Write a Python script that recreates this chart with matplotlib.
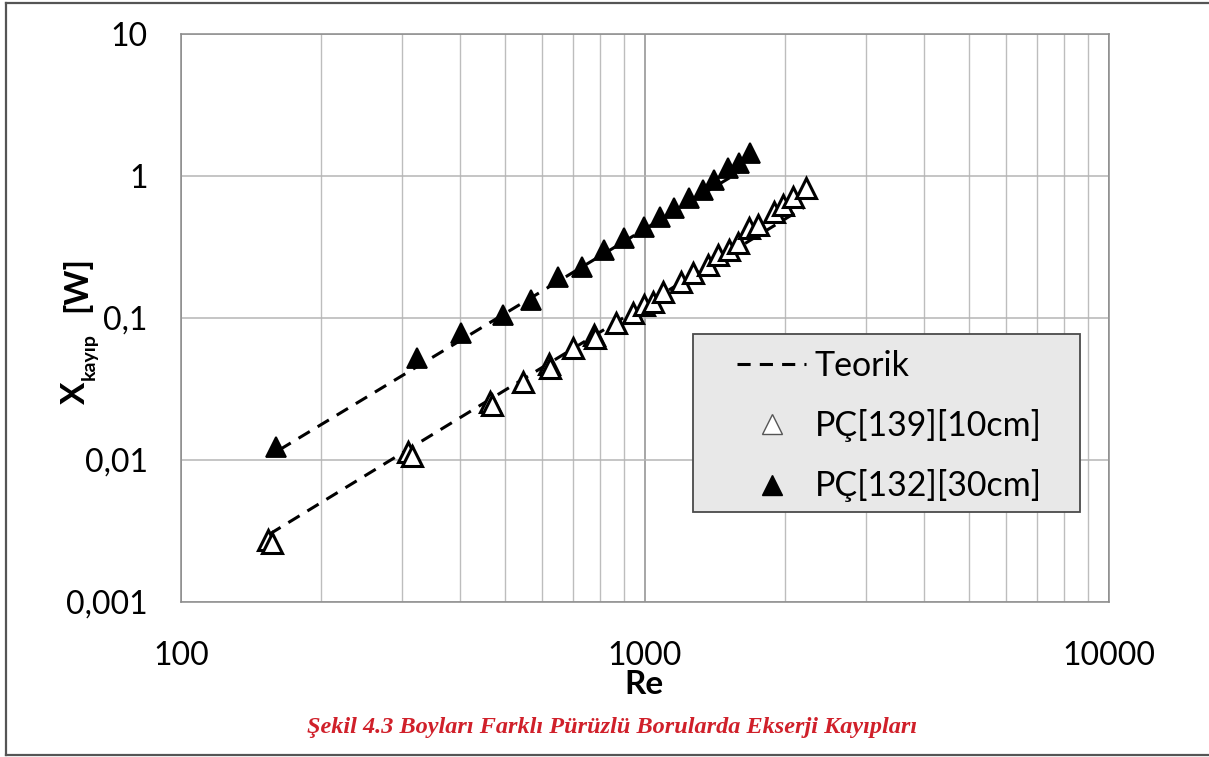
import matplotlib
matplotlib.use("Agg")
import matplotlib.pyplot as plt
from matplotlib.lines import Line2D
from matplotlib.patches import Rectangle
from matplotlib.ticker import FixedLocator, FixedFormatter, LogLocator, NullFormatter, NullLocator

# ---------------- data ----------------
re_10 = [154, 157, 309, 314, 464, 469, 547, 622, 625, 698, 778, 782, 864, 940, 993,
         1038, 1096, 1193, 1266, 1364, 1434, 1514, 1583, 1673, 1749, 1893, 1980, 2081, 2220]
x_10 = [0.00273, 0.00260, 0.0114, 0.0107, 0.0256, 0.0244, 0.0354, 0.0474, 0.0445, 0.0615,
        0.0759, 0.0723, 0.0923, 0.108, 0.124, 0.130, 0.152, 0.179, 0.207, 0.236, 0.278,
        0.301, 0.338, 0.431, 0.452, 0.557, 0.625, 0.711, 0.823]

re_30 = [160, 323, 402, 495, 569, 648, 733, 814, 899, 993, 1075, 1152, 1241, 1331, 1406,
         1507, 1592, 1680]
x_30 = [0.0124, 0.0523, 0.0784, 0.105, 0.134, 0.194, 0.229, 0.301, 0.366, 0.438, 0.514,
        0.595, 0.700, 0.797, 0.937, 1.14, 1.24, 1.45]

teo_re_10 = [155, 2200]
teo_x_10 = [0.0030, 0.60]
teo_re_30 = [163, 1650]
teo_x_30 = [0.0118, 1.14]

y_ticks = [0.001, 0.01, 0.1, 1, 10]
y_tick_labels = ["0,001", "0,01", "0,1", "1", "10"]
x_ticks = [100, 1000, 10000]
x_tick_labels = ["100", "1000", "10000"]

legend_labels = ["Teorik", "PÇ[139][10cm]", "PÇ[132][30cm]"]
caption = "Şekil 4.3 Boyları Farklı Pürüzlü Borularda Ekserji Kayıpları"

# ---------------- figure ----------------
W, H = 1209, 757
fig = plt.figure(figsize=(W / 100, H / 100), dpi=100)
plt.rcParams['font.family'] = ['Lato', 'DejaVu Sans']

def fx(px):
    return px / W

def fy(py):
    return 1 - py / H

ax = fig.add_axes([fx(181), fy(602), fx(1109) - fx(181), fy(34) - fy(602)])
ax.set_xscale('log')
ax.set_yscale('log')
ax.set_xlim(100, 10000)
ax.set_ylim(0.001, 10)

ax.xaxis.set_major_locator(FixedLocator(x_ticks))
ax.xaxis.set_major_formatter(FixedFormatter(x_tick_labels))
ax.xaxis.set_minor_locator(LogLocator(base=10, subs=range(2, 10)))
ax.xaxis.set_minor_formatter(NullFormatter())
ax.yaxis.set_major_locator(FixedLocator(y_ticks))
ax.yaxis.set_major_formatter(FixedFormatter(y_tick_labels))
ax.yaxis.set_minor_locator(NullLocator())

ax.tick_params(axis='both', which='both', length=0)
ax.tick_params(axis='y', labelsize=23, pad=24)
ax.tick_params(axis='x', labelsize=23, pad=28)

ax.grid(True, which='major', axis='x', color='#8e8e8e', lw=1.1)
ax.grid(True, which='minor', axis='x', color='#bdbdbd', lw=1.0)
ax.grid(True, which='major', axis='y', color='#b5b5b5', lw=1.1)
ax.set_axisbelow(True)
for s in ax.spines.values():
    s.set_color('#8a8a8a')
    s.set_linewidth(1.1)

dash = (0, (4.3, 3.0))
ax.plot(teo_re_10, teo_x_10, color='black', lw=2.2, linestyle=dash, zorder=2)
ax.plot(teo_re_30, teo_x_30, color='black', lw=2.2, linestyle=dash, zorder=2)

ax.plot(re_10, x_10, linestyle='none', marker='^', ms=15, mfc='white', mec='black',
        mew=2.2, zorder=3)
ax.plot(re_30, x_30, linestyle='none', marker='^', ms=15, mfc='black', mec='black',
        mew=1.3, zorder=3)

# legend frame drawn separately for exact placement
ax.add_patch(Rectangle((fx(693), fy(512)), fx(1080) - fx(693), fy(334) - fy(512),
                       transform=fig.transFigure, facecolor='#e8e8e8',
                       edgecolor='#4a4a4a', lw=1.3, zorder=4, clip_on=False))
handles = [
    Line2D([], [], color='black', lw=2.2, linestyle=dash),
    Line2D([], [], linestyle='none', marker='^', ms=14, mfc='white', mec='#555555', mew=1.0),
    Line2D([], [], linestyle='none', marker='^', ms=14, mfc='black', mec='black', mew=1.0),
]
leg = ax.legend(handles, legend_labels, loc='upper left',
                bbox_to_anchor=(fx(737), fy(350)), bbox_transform=fig.transFigure,
                fontsize=24.5, frameon=False, handlelength=2.03,
                handletextpad=0.26, labelspacing=0.8, borderpad=0,
                borderaxespad=0, markerscale=1.0)
leg.set_zorder(6)

# axis labels
fig.text(fx(644), fy(684), "Re", ha='center', va='center', fontsize=24, fontweight='bold')
fig.text(fx(75), fy(404), "X", rotation=90, ha='center', va='bottom', fontsize=24,
         fontweight='bold')
fig.text(fx(89), fy(380), "kayıp", rotation=90, ha='center', va='bottom', fontsize=14,
         fontweight='bold')
fig.text(fx(76), fy(312), "[W]", rotation=90, ha='center', va='bottom', fontsize=24,
         fontweight='bold')

# caption
fig.text(fx(612), fy(727), caption, ha='center', va='center', fontsize=17.5,
         color='#d0202a', family='Liberation Serif', fontstyle='italic', fontweight='bold')

# outer frame
frame_kw = dict(color='#555555', lw=1.6, transform=fig.transFigure)
fig.add_artist(Line2D([fx(6), fx(6)], [fy(3), fy(755)], **frame_kw))
fig.add_artist(Line2D([fx(6), 1], [fy(3), fy(3)], **frame_kw))
fig.add_artist(Line2D([fx(6), 1], [fy(755), fy(755)], **frame_kw))

fig.savefig("out.png", dpi=100)
